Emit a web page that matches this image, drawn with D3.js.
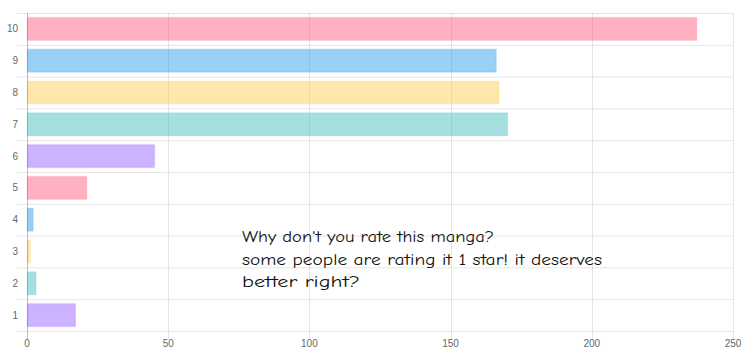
<!DOCTYPE html>
<html><head><meta charset="utf-8">
<script src="https://cdn.jsdelivr.net/npm/d3@7"></script>
<style>body{margin:0;background:#fff}svg{display:block}</style>
</head><body>
<svg id="c" width="754" height="355"></svg>
<script>
const categories = ["10","9","8","7","6","5","4","3","2","1"];
const values = [237,166,167,170,45,21,2,1,3,17];
const xTicks = [0,50,100,150,200,250];
const fills = ["rgba(255,99,132,0.5)","rgba(54,162,235,0.5)","rgba(255,205,86,0.5)","rgba(75,192,192,0.5)","rgba(153,102,255,0.5)"];
const strokes = ["rgba(255,99,132,0.15)","rgba(54,162,235,0.15)","rgba(255,205,86,0.15)","rgba(75,192,192,0.15)","rgba(153,102,255,0.15)"];
const note = ["Why don't you rate this manga?","some people are rating it 1 star! it deserves","better right?"];

const svg = d3.select("#c");
const L=27, R=733, T=13, B=331;
const x = d3.scaleLinear().domain([0,250]).range([L,R]);
const y = d3.scaleBand().domain(categories).range([T,B]);

// horizontal grid (category boundaries), with tick stubs
const bounds = categories.map(c=>y(c)).concat([B]);
svg.append("g").selectAll("line").data(bounds).join("line")
  .attr("x1",L-10).attr("x2",R).attr("y1",d=>d+0.5).attr("y2",d=>d+0.5)
  .attr("stroke","rgba(0,0,0,0.1)");
// vertical grid
svg.append("g").selectAll("line").data(xTicks.slice(1)).join("line")
  .attr("x1",d=>Math.round(x(d))+0.5).attr("x2",d=>Math.round(x(d))+0.5)
  .attr("y1",T).attr("y2",B+9).attr("stroke","rgba(0,0,0,0.1)");

// bars
const bw = y.bandwidth()*0.72;
svg.append("g").selectAll("rect").data(values).join("rect")
  .attr("x",L+0.5).attr("y",(d,i)=>y(categories[i])+(y.bandwidth()-bw)/2)
  .attr("width",d=>x(d)-L).attr("height",bw)
  .attr("fill",(d,i)=>fills[i%5]).attr("stroke",(d,i)=>strokes[i%5]).attr("stroke-width",1.5);

// y axis line
svg.append("line").attr("x1",L+0.5).attr("x2",L+0.5).attr("y1",T).attr("y2",B+9)
  .attr("stroke","rgba(0,0,0,0.25)");

// y labels
svg.append("g").selectAll("text").data(categories).join("text")
  .attr("x",18).attr("y",d=>y(d)+y.bandwidth()/2).attr("dy","0.35em")
  .attr("text-anchor","end").attr("font-family","Liberation Sans, Arial, sans-serif")
  .attr("font-size",10).attr("fill","#666").text(d=>d);

// x labels
svg.append("g").selectAll("text").data(xTicks).join("text")
  .attr("x",d=>x(d)).attr("y",343).attr("dy","0.35em")
  .attr("text-anchor","middle").attr("font-family","Liberation Sans, Arial, sans-serif")
  .attr("font-size",10).attr("fill","#666").text(d=>d);

// annotation
const nlens=[252,360,118];
svg.append("g").selectAll("text").data(note).join("text")
  .attr("x",242).attr("y",(d,i)=>242+i*22.5)
  .attr("font-family","'Comic Sans MS','Comic Neue',cursive,'DejaVu Sans',sans-serif")
  .attr("font-size",16).attr("fill","#111")
  .attr("textLength",(d,i)=>nlens[i]).attr("lengthAdjust","spacingAndGlyphs")
  .text(d=>d);
</script>
</body></html>
